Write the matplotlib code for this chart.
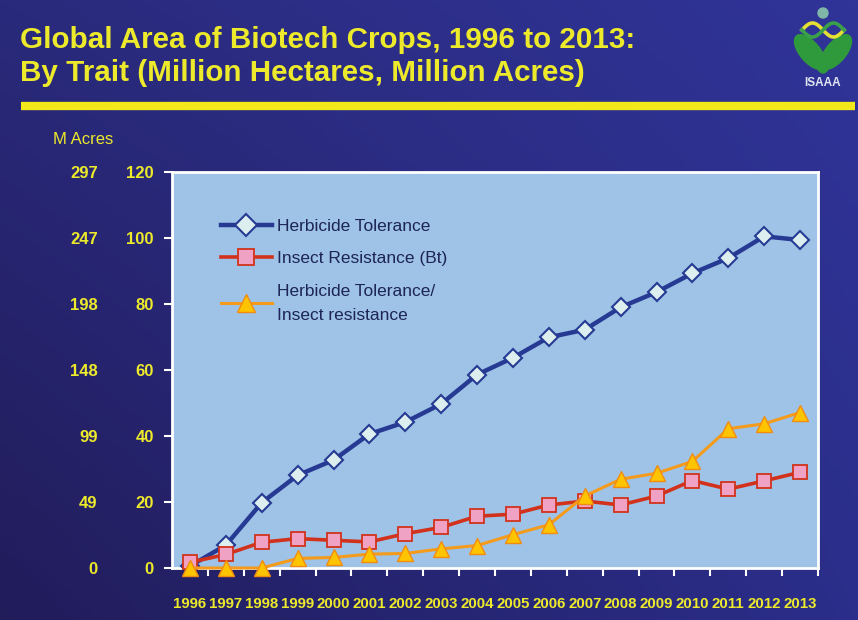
import numpy as np
import matplotlib
matplotlib.use("Agg")
import matplotlib.pyplot as plt
from matplotlib.patches import Ellipse, Circle

# Superficie mundial de cultivos biotecnológicos por rasgo (millones de hectáreas)
anios = [str(a) for a in range(1996, 2014)]
tolerancia_herbicida = [0.6, 6.9, 19.8, 28.1, 32.7, 40.6, 44.2, 49.7, 58.6, 63.7,
                        69.9, 72.2, 79.0, 83.6, 89.3, 93.9, 100.5, 99.4]
resistencia_insectos = [1.7, 4.1, 7.8, 8.9, 8.4, 7.9, 10.4, 12.3, 15.7, 16.3,
                        19.1, 20.3, 19.1, 21.8, 26.5, 23.9, 26.4, 29.0]
rasgos_combinados = [0.0, 0.0, 0.0, 2.9, 3.2, 4.2, 4.4, 5.8, 6.8, 10.1,
                     13.1, 21.8, 26.9, 28.7, 32.3, 42.2, 43.7, 47.1]

ticks_hectareas = [0, 20, 40, 60, 80, 100, 120]
ticks_acres = ["0", "49", "99", "148", "198", "247", "297"]

AMARILLO = "#ecea2a"
FONDO_PLOT = "#9ec3e6"

plt.rcParams["font.family"] = ["Liberation Sans", "DejaVu Sans"]

fig = plt.figure(figsize=(8.58, 6.2), dpi=100)

# Fondo con degradado azul oscuro
fondo = fig.add_axes([0, 0, 1, 1], zorder=-10)
tl = np.array([0x2a, 0x2a, 0x7c]) / 255
tr = np.array([0x30, 0x34, 0x98]) / 255
bl = np.array([0x21, 0x1c, 0x5a]) / 255
br = np.array([0x2b, 0x2e, 0x8a]) / 255
xs = np.linspace(0, 1, 200)[None, :, None]
ys = np.linspace(0, 1, 150)[:, None, None]
grad = (1 - ys) * ((1 - xs) * tl + xs * tr) + ys * ((1 - xs) * bl + xs * br)
fondo.imshow(grad, aspect="auto", extent=[0, 1, 0, 1], origin="upper")
fondo.set_xlim(0, 1)
fondo.set_ylim(0, 1)
fondo.axis("off")

# Titulo y linea amarilla
fig.text(0.023, 1 - 40 / 620, "Global Area of Biotech Crops, 1996 to 2013:",
         color=AMARILLO, fontsize=21.3, fontweight="bold", va="center")
fig.text(0.023, 1 - 73 / 620, "By Trait (Million Hectares, Million Acres)",
         color=AMARILLO, fontsize=21.3, fontweight="bold", va="center")
fondo.plot([0.024, 0.996], [1 - 106 / 620, 1 - 106 / 620], color="#f2e81a",
           lw=6, solid_capstyle="butt")

# Grafico principal
ax = fig.add_axes([172 / 858, 52 / 620, 646 / 858, 396 / 620])
ax.set_facecolor(FONDO_PLOT)
x = np.arange(len(anios))

ax.plot(x, tolerancia_herbicida, color="#263a94", lw=3.2, marker="D",
        markersize=9.5, markerfacecolor="#dcefee", markeredgecolor="#263a94",
        markeredgewidth=1.5, label="Herbicide Tolerance", clip_on=False, zorder=3)
ax.plot(x, resistencia_insectos, color="#d2321c", lw=2.6, marker="s",
        markersize=10, markerfacecolor="#f0a2c4", markeredgecolor="#d2321c",
        markeredgewidth=1.3, label="Insect Resistance (Bt)", clip_on=False, zorder=4)
ax.plot(x, rasgos_combinados, color="#f59b1c", lw=2.2, marker="^",
        markersize=11, markerfacecolor="#ffc400", markeredgecolor="#f28c10",
        markeredgewidth=1.0, label="Herbicide Tolerance/\nInsect resistance",
        clip_on=False, zorder=5)

ax.set_xlim(-0.5, len(anios) - 0.5)
ax.set_ylim(0, 120)
ax.set_yticks(ticks_hectareas)
ax.set_xticks(x)
ax.set_xticklabels(anios)
ax.set_xticks(np.arange(len(anios)) + 0.5, minor=True)

for lado in ["left", "top", "right", "bottom"]:
    ax.spines[lado].set_color("white")
    ax.spines[lado].set_linewidth(2)
ax.tick_params(axis="y", colors="white", labelcolor=AMARILLO, length=6, width=1.5,
               pad=7, labelsize=12)
ax.tick_params(axis="x", which="major", length=0, labelcolor=AMARILLO,
               labelsize=10.8, pad=21)
ax.tick_params(axis="x", which="minor", colors="white", length=6, width=1.5)
for t in ax.get_xticklabels() + ax.get_yticklabels():
    t.set_fontweight("bold")

# Eje en acres
ax_acres = ax.secondary_yaxis(-0.115)
ax_acres.set_yticks(ticks_hectareas, labels=ticks_acres)
ax_acres.spines["left"].set_visible(False)
ax_acres.tick_params(length=0, pad=0, labelcolor=AMARILLO, labelsize=12)
for t in ax_acres.get_yticklabels():
    t.set_fontweight("bold")
fig.text(83 / 858, 1 - 140 / 620, "M Acres", color=AMARILLO, fontsize=12,
         ha="center", va="center")

leg = ax.legend(loc="upper left", bbox_to_anchor=(0.052, 0.922), frameon=False,
                fontsize=12.5, handlelength=2.9, labelspacing=1.0,
                handletextpad=0.3, labelcolor="#1d2458", markerscale=1.15)
for texto in leg.get_texts():
    texto.set_linespacing(1.75)

# Logo ISAAA
logo = fig.add_axes([790 / 858, 1 - 92 / 620, 66 / 858, 88 / 620])
logo.set_xlim(0, 66)
logo.set_ylim(0, 88)
logo.axis("off")
logo.add_patch(Ellipse((20, 40), 20, 42, angle=40, color="#2f9a3c"))
logo.add_patch(Ellipse((46, 40), 20, 42, angle=-40, color="#2f9a3c"))
logo.add_patch(Ellipse((33, 28), 12, 18, color="#2f9a3c"))
t = np.linspace(0, 2 * np.pi, 60)
logo.plot(12 + 42 * t / (2 * np.pi), 62 + 7 * np.sin(t), color="#e6e034", lw=2.6)
logo.plot(12 + 42 * t / (2 * np.pi), 62 - 7 * np.sin(t), color="#3aa04a", lw=2.6)
logo.add_patch(Circle((33, 79), 5, color="#7fb6a8"))
logo.text(33, 9, "ISAAA", color="#dfe6f2", fontsize=8.5, fontweight="bold",
          ha="center", va="center")

fig.savefig("out.png", dpi=100)
